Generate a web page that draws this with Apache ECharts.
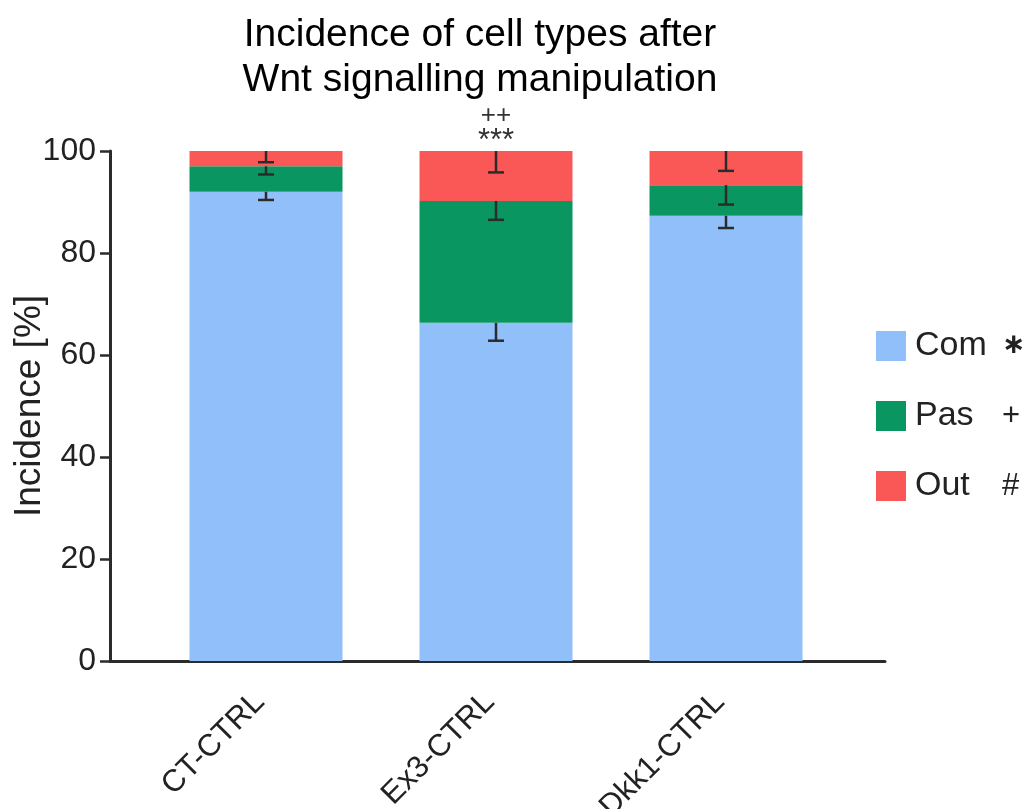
<!DOCTYPE html>
<html><head><meta charset="utf-8">
<script src="https://cdn.jsdelivr.net/npm/echarts@6/dist/echarts.min.js"></script>
<style>html,body{margin:0;padding:0;background:#fff}#c{width:1022px;height:809px}</style>
</head><body><div id="c"></div>
<script>
const categories = ['CT-CTRL', 'Ex3-CTRL', 'Dkk1-CTRL'];
const comValues = [92.0, 66.3, 87.3];
const pasValues = [5.0, 23.9, 6.0];
const outValues = [3.0, 9.8, 6.7];
const comErr = [1.6, 3.5, 2.4];
const pasErr = [1.6, 3.7, 3.8];
const outErr = [2.2, 4.2, 3.9];
const seriesNames = ['Com', 'Pas', 'Out'];
const seriesMarks = ['\u2217', '+', '#'];
const seriesColors = ['#90bff9', '#0a9661', '#fa5757'];
const annotationCategory = 1;
const annotationText = ['++', '***'];

const FONT = '"Liberation Sans", Arial, Helvetica, "DejaVu Sans", sans-serif';
const chart = echarts.init(document.getElementById('c'));

const stacks = [comValues, pasValues, outValues];
const errs = [comErr, pasErr, outErr];
const errData = [];
let cum = categories.map(() => 0);
stacks.forEach((vals, s) => {
  vals.forEach((v, i) => {
    cum[i] += v;
    errData.push([i, cum[i], errs[s][i]]);
  });
});

const barSeries = stacks.map((vals, s) => ({
  name: seriesNames[s],
  type: 'bar',
  stack: 'total',
  xAxisIndex: 1,
  yAxisIndex: 1,
  barWidth: 153,
  itemStyle: { color: seriesColors[s] },
  data: vals.map((v, i) => {
    const d = { value: v };
    if (s === stacks.length - 1 && i === annotationCategory) {
      d.label = {
        show: true,
        position: 'top',
        distance: -4,
        formatter: '{p|' + annotationText[0] + '}\n{s|' + annotationText[1] + '}',
        rich: {
          p: { fontSize: 26, lineHeight: 25, color: '#333', fontFamily: FONT },
          s: { fontSize: 31, lineHeight: 27, color: '#333', fontFamily: FONT }
        }
      };
    }
    return d;
  })
}));

const option = {
  backgroundColor: '#fff',
  animation: false,
  title: {
    text: 'Incidence of cell types after\nWnt signalling manipulation',
    left: 475,
    textAlign: 'center',
    top: 8,
    textStyle: { fontSize: 39, fontWeight: 'normal', color: '#000', lineHeight: 45, fontFamily: FONT }
  },
  legend: {
    orient: 'vertical',
    left: 876,
    top: 329,
    padding: 0,
    itemWidth: 30,
    itemHeight: 30,
    itemGap: 36,
    icon: 'rect',
    data: seriesNames,
    formatter: name => {
      const i = seriesNames.indexOf(name);
      return '{n|' + name + '}{' + (i === 0 ? 'a' : 's') + '|' + seriesMarks[i] + '}';
    },
    textStyle: {
      fontFamily: FONT,
      rich: {
        n: { fontSize: 34, color: '#222', width: 87, padding: [0, 0, 0, 4], lineHeight: 30, fontFamily: FONT },
        s: { fontSize: 31, color: '#222', lineHeight: 30, fontFamily: FONT },
        a: { fontSize: 28, fontWeight: 'bold', color: '#222', lineHeight: 30, fontFamily: '"DejaVu Sans", sans-serif' }
      }
    }
  },
  grid: [
    { left: 110, right: 137, top: 151, bottom: 148, outerBoundsMode: 'none', containLabel: false },
    { left: 151, right: 181, top: 151, bottom: 148, outerBoundsMode: 'none', containLabel: false }
  ],
  xAxis: [
    {
      type: 'value', gridIndex: 0, min: 0, max: 1,
      axisLine: { show: true, lineStyle: { color: '#2b2b2b', width: 3 } },
      axisTick: { show: false }, axisLabel: { show: false }, splitLine: { show: false }
    },
    {
      type: 'category', gridIndex: 1, data: categories,
      axisLine: { show: false }, axisTick: { show: false }, splitLine: { show: false },
      axisLabel: { rotate: 45, fontSize: 31, color: '#222', margin: 30, padding: [0, 9, 0, 0], fontFamily: FONT }
    }
  ],
  yAxis: [
    {
      type: 'value', gridIndex: 0, min: 0, max: 100, interval: 20,
      name: 'Incidence [%]', nameLocation: 'middle', nameGap: 62, nameMoveOverlap: false,
      nameTextStyle: { fontSize: 37, color: '#222', fontFamily: FONT },
      axisLine: { show: true, lineStyle: { color: '#2b2b2b', width: 3 } },
      axisTick: { show: true, length: 10, lineStyle: { color: '#2b2b2b', width: 2.5 } },
      axisLabel: { fontSize: 32, color: '#222', margin: 14, fontFamily: FONT },
      splitLine: { show: false }
    },
    {
      type: 'value', gridIndex: 1, min: 0, max: 100, interval: 20,
      axisLine: { show: false }, axisTick: { show: false }, axisLabel: { show: false }, splitLine: { show: false }
    }
  ],
  series: barSeries.concat([{
    type: 'custom',
    name: 'err',
    xAxisIndex: 1,
    yAxisIndex: 1,
    z: 10,
    data: errData,
    renderItem: (params, api) => {
      const top = api.coord([api.value(0), api.value(1)]);
      const bot = api.coord([api.value(0), api.value(1) - api.value(2)]);
      const style = { stroke: '#2b2b2b', lineWidth: 2.5 };
      return {
        type: 'group',
        children: [
          { type: 'line', shape: { x1: top[0], y1: top[1], x2: bot[0], y2: bot[1] }, style },
          { type: 'line', shape: { x1: bot[0] - 8, y1: bot[1], x2: bot[0] + 8, y2: bot[1] }, style }
        ]
      };
    }
  }])
};
chart.setOption(option);
</script></body></html>
